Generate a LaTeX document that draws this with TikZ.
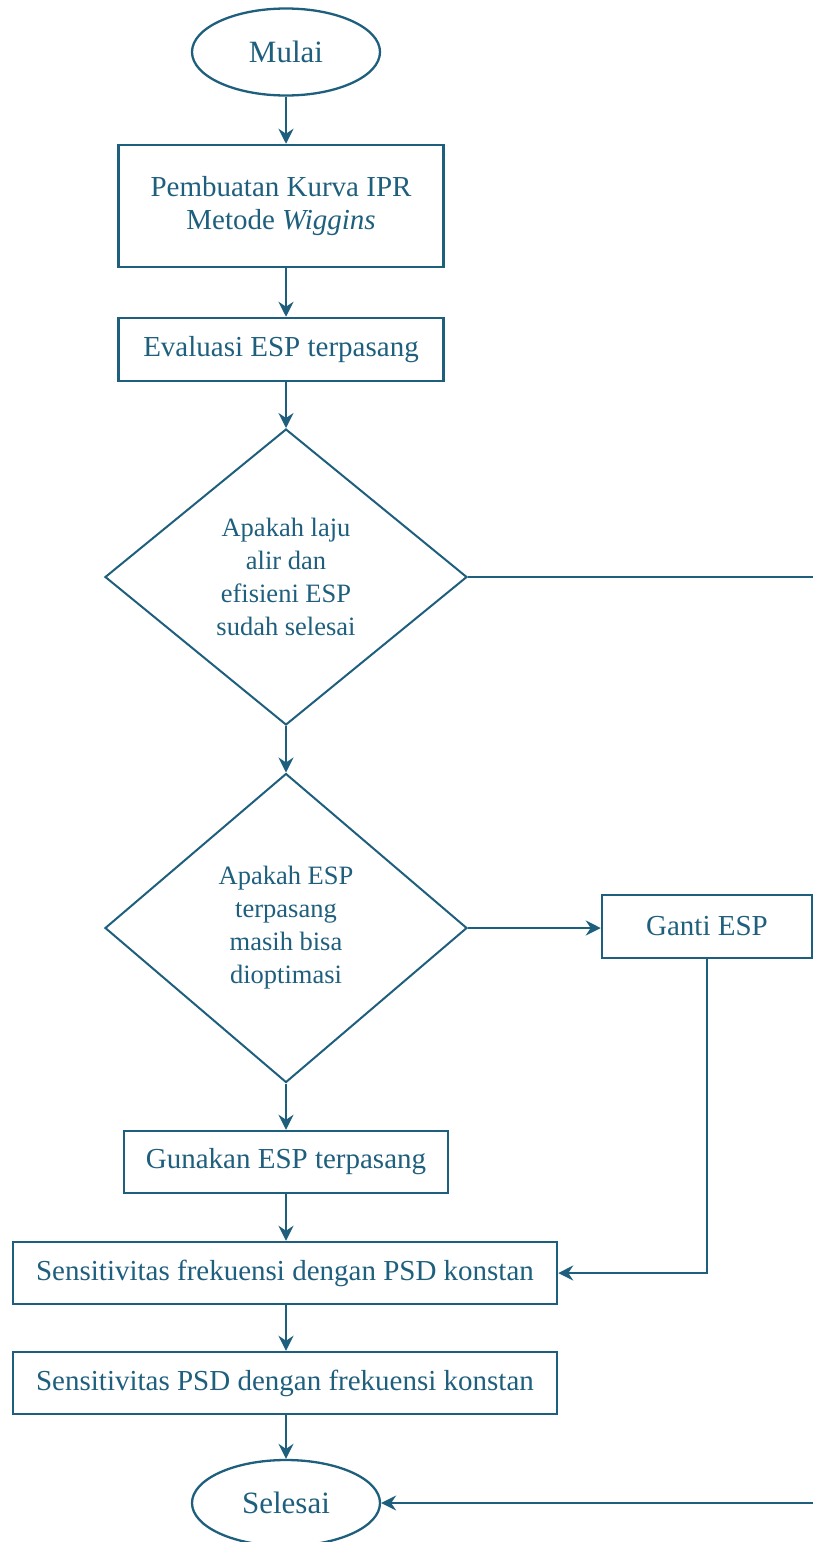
\documentclass[tikz,border=0pt]{standalone}
\usepackage{fontspec}
\setmainfont{Liberation Serif}
\usetikzlibrary{shapes.geometric,arrows.meta}
\definecolor{flowblue}{RGB}{31,95,126}
\begin{document}
\begin{tikzpicture}[x=1pt,y=-1pt,
  term/.style={ellipse, draw=flowblue, line width=2.3pt, text=flowblue, inner sep=0pt, minimum width=188pt, minimum height=87pt, font=\fontsize{31}{35}\selectfont},
  proc/.style={rectangle, draw=flowblue, line width=2.5pt, text=flowblue, inner sep=0pt, align=center, minimum height=63pt, font=\fontsize{29}{33}\selectfont},
  cond/.style={diamond, draw=flowblue, line width=2pt, text=flowblue, inner sep=0pt, align=center, font=\fontsize{26.5}{33}\selectfont},
  flow/.style={draw=flowblue, line width=2pt, -{Stealth[length=15pt,width=15pt,inset=5pt]}}]
\useasboundingbox (0,0) rectangle (813,1542);
\node[term] (mulai) at (286,52){Mulai};
\node[proc, minimum width=325pt, minimum height=122pt] (ipr) at (281,206){Pembuatan Kurva IPR\\Metode \textit{Wiggins}};
\node[proc, minimum width=325pt] (eval) at (281,349.5){Evaluasi ESP terpasang};
\node[cond, minimum width=362pt, minimum height=296pt] (cek1) at (286,577){Apakah laju\\alir dan\\efisieni ESP\\sudah selesai};
\node[cond, minimum width=362pt, minimum height=309pt] (cek2) at (286,928){Apakah ESP\\terpasang\\masih bisa\\dioptimasi};
\node[proc, minimum width=210pt] (ganti) at (707,926.5){Ganti ESP};
\node[proc, minimum width=324pt, minimum height=62pt] (guna) at (286,1162){Gunakan ESP terpasang};
\node[proc, minimum width=544pt, minimum height=62pt] (sens1) at (285,1273){Sensitivitas frekuensi dengan PSD konstan};
\node[proc, minimum width=544pt, minimum height=62pt] (sens2) at (285,1383){Sensitivitas PSD dengan frekuensi konstan};
\node[term, minimum height=86pt] (selesai) at (286,1503){Selesai};
\coordinate (loopR) at (840,577);
\draw[flow] (mulai.south) -- (mulai.south |- ipr.north);
\draw[flow] (mulai.south |- ipr.south) -- (mulai.south |- eval.north);
\draw[flow] (mulai.south |- eval.south) -- (cek1.north);
\draw[flow] (cek1.south) -- (cek2.north);
\draw[flow] (cek2.east) -- (cek2.east -| ganti.west);
\draw[flow] (cek2.south) -- (cek2.south |- guna.north);
\draw[flow] (ganti.south) |- (sens1.east);
\draw[flow] (mulai.south |- guna.south) -- (mulai.south |- sens1.north);
\draw[flow] (mulai.south |- sens1.south) -- (mulai.south |- sens2.north);
\draw[flow] (mulai.south |- sens2.south) -- (selesai.north);
\draw[flow] (cek1.east) -- (loopR) |- (selesai.east);
\end{tikzpicture}
\end{document}
